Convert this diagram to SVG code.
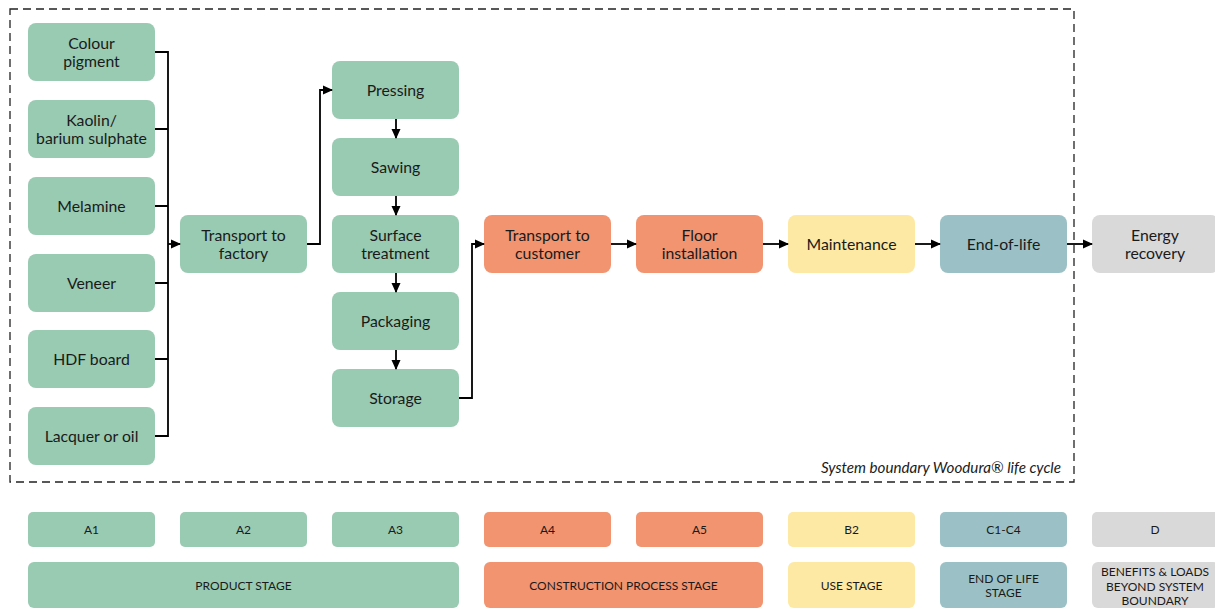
<svg xmlns="http://www.w3.org/2000/svg" width="1215" height="608" viewBox="0 0 1215 608">
<style>
text{font-family:Lato,"Open Sans","Liberation Sans",sans-serif;fill:#1a1a1a;text-anchor:middle}
.n{font-size:15.8px}
.l{font-size:12px}
.g{fill:#99cab2}
.o{fill:#f1946f}
.y{fill:#fde9a3}
.t{fill:#9bc1c6}
.d{fill:#d9d9d9}
.c{fill:none;stroke:#000;stroke-width:1.8}
</style>
<defs>
<marker id="ah" markerWidth="10" markerHeight="10" refX="9" refY="5" orient="auto" markerUnits="userSpaceOnUse">
<path d="M0,0.5 L10,5 L0,9.5 Z" fill="#000"/>
</marker>
</defs>
<rect x="10" y="9" width="1064" height="473" fill="none" stroke="#222" stroke-width="1.3" stroke-dasharray="8,5"/>
<text x="1061" y="473" style="font-size:15.2px;font-style:italic;text-anchor:end">System boundary Woodura® life cycle</text>

<g id="colour-pigment"><rect class="g" x="28" y="23" width="127" height="58" rx="8"/><text class="n" x="91.5" y="49">Colour</text><text class="n" x="91.5" y="67">pigment</text></g>
<g id="kaolin"><rect class="g" x="28" y="100" width="127" height="58" rx="8"/><text class="n" x="91.5" y="126">Kaolin/</text><text class="n" x="91.5" y="144">barium sulphate</text></g>
<g id="melamine"><rect class="g" x="28" y="177" width="127" height="58" rx="8"/><text class="n" x="91.5" y="212">Melamine</text></g>
<g id="veneer"><rect class="g" x="28" y="254" width="127" height="58" rx="8"/><text class="n" x="91.5" y="289">Veneer</text></g>
<g id="hdf-board"><rect class="g" x="28" y="330" width="127" height="58" rx="8"/><text class="n" x="91.5" y="365">HDF board</text></g>
<g id="lacquer"><rect class="g" x="28" y="407" width="127" height="58" rx="8"/><text class="n" x="91.5" y="442">Lacquer or oil</text></g>

<g id="transport-factory"><rect class="g" x="180" y="215" width="127" height="58" rx="8"/><text class="n" x="243.5" y="241">Transport to</text><text class="n" x="243.5" y="259">factory</text></g>

<g id="pressing"><rect class="g" x="332" y="61" width="127" height="58" rx="8"/><text class="n" x="395.5" y="96">Pressing</text></g>
<g id="sawing"><rect class="g" x="332" y="138" width="127" height="58" rx="8"/><text class="n" x="395.5" y="173">Sawing</text></g>
<g id="surface"><rect class="g" x="332" y="215" width="127" height="58" rx="8"/><text class="n" x="395.5" y="241">Surface</text><text class="n" x="395.5" y="259">treatment</text></g>
<g id="packaging"><rect class="g" x="332" y="292" width="127" height="58" rx="8"/><text class="n" x="395.5" y="327">Packaging</text></g>
<g id="storage"><rect class="g" x="332" y="369" width="127" height="58" rx="8"/><text class="n" x="395.5" y="404">Storage</text></g>

<g id="transport-customer"><rect class="o" x="484" y="215" width="127" height="58" rx="8"/><text class="n" x="547.5" y="241">Transport to</text><text class="n" x="547.5" y="259">customer</text></g>
<g id="floor-installation"><rect class="o" x="636" y="215" width="127" height="58" rx="8"/><text class="n" x="699.5" y="241">Floor</text><text class="n" x="699.5" y="259">installation</text></g>
<g id="maintenance"><rect class="y" x="788" y="215" width="127" height="58" rx="8"/><text class="n" x="851.5" y="250">Maintenance</text></g>
<g id="end-of-life"><rect class="t" x="940" y="215" width="127" height="58" rx="8"/><text class="n" x="1003.5" y="250">End-of-life</text></g>
<g id="energy-recovery"><rect class="d" x="1092" y="215" width="127" height="58" rx="8"/><text class="n" x="1155" y="241">Energy</text><text class="n" x="1155" y="259">recovery</text></g>

<g id="connectors">
<path class="c" d="M155,52 H168 M155,129 H168 M155,206 H168 M155,283 H168 M155,359 H168 M155,436 H168 M168,51 V437"/>
<path class="c" d="M168,244 H180" marker-end="url(#ah)"/>
<path class="c" d="M307,244 H320 V90 H332" marker-end="url(#ah)"/>
<path class="c" d="M396,119 V138" marker-end="url(#ah)"/>
<path class="c" d="M396,196 V215" marker-end="url(#ah)"/>
<path class="c" d="M396,273 V292" marker-end="url(#ah)"/>
<path class="c" d="M396,350 V369" marker-end="url(#ah)"/>
<path class="c" d="M459,398 H472 V244 H484" marker-end="url(#ah)"/>
<path class="c" d="M611,244 H636" marker-end="url(#ah)"/>
<path class="c" d="M763,244 H788" marker-end="url(#ah)"/>
<path class="c" d="M915,244 H940" marker-end="url(#ah)"/>
<path class="c" d="M1067,244 H1092" marker-end="url(#ah)"/>
</g>

<g id="legend">
<g id="lg-a1"><rect class="g" x="28" y="512" width="127" height="35" rx="5"/><text class="l" x="91.5" y="534">A1</text></g>
<g id="lg-a2"><rect class="g" x="180" y="512" width="127" height="35" rx="5"/><text class="l" x="243.5" y="534">A2</text></g>
<g id="lg-a3"><rect class="g" x="332" y="512" width="127" height="35" rx="5"/><text class="l" x="395.5" y="534">A3</text></g>
<g id="lg-a4"><rect class="o" x="484" y="512" width="127" height="35" rx="5"/><text class="l" x="547.5" y="534">A4</text></g>
<g id="lg-a5"><rect class="o" x="636" y="512" width="127" height="35" rx="5"/><text class="l" x="699.5" y="534">A5</text></g>
<g id="lg-b2"><rect class="y" x="788" y="512" width="127" height="35" rx="5"/><text class="l" x="851.5" y="534">B2</text></g>
<g id="lg-c"><rect class="t" x="940" y="512" width="127" height="35" rx="5"/><text class="l" x="1003.5" y="534">C1-C4</text></g>
<g id="lg-d"><rect class="d" x="1092" y="512" width="127" height="35" rx="5"/><text class="l" x="1155" y="534">D</text></g>
<g id="lg-product"><rect class="g" x="28" y="562" width="431" height="46" rx="6"/><text class="l" x="243.5" y="590">PRODUCT STAGE</text></g>
<g id="lg-construction"><rect class="o" x="484" y="562" width="279" height="46" rx="6"/><text class="l" x="623.5" y="590">CONSTRUCTION PROCESS STAGE</text></g>
<g id="lg-use"><rect class="y" x="788" y="562" width="127" height="46" rx="6"/><text class="l" x="851.5" y="590">USE STAGE</text></g>
<g id="lg-eol"><rect class="t" x="940" y="562" width="127" height="46" rx="6"/><text class="l" x="1003.5" y="583">END OF LIFE</text><text class="l" x="1003.5" y="597">STAGE</text></g>
<g id="lg-benefits"><rect class="d" x="1092" y="562" width="127" height="46" rx="6"/><text class="l" x="1155" y="576">BENEFITS &amp; LOADS</text><text class="l" x="1155" y="590.5">BEYOND SYSTEM</text><text class="l" x="1155" y="605">BOUNDARY</text></g>
</g>
</svg>
